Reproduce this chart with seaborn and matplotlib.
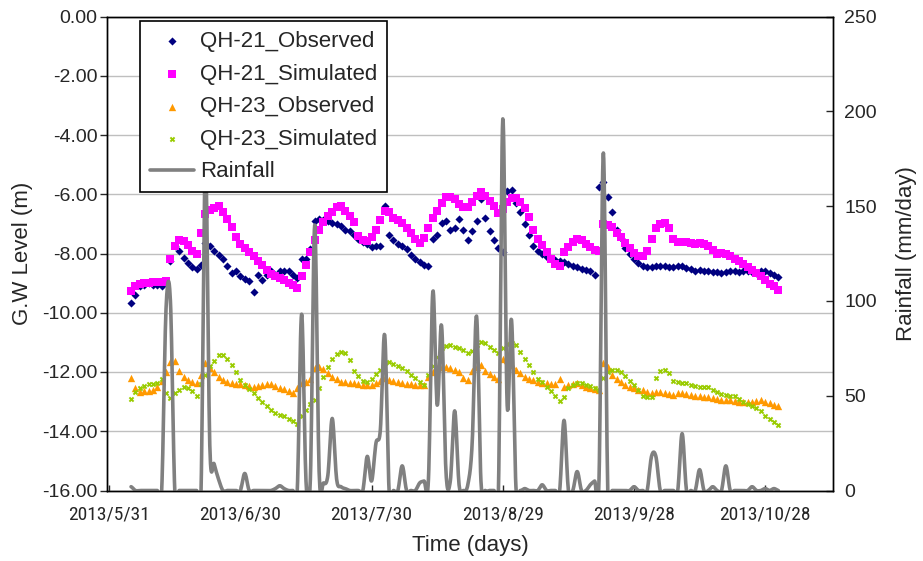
import numpy as np
import pandas as pd
import matplotlib
matplotlib.use("Agg")
import matplotlib.pyplot as plt
import matplotlib.dates as mdates
from matplotlib import font_manager
from matplotlib.ticker import FormatStrFormatter
import seaborn as sns

# ---------------- data (daily, 2013/6/5 .. 2013/10/31) ----------------
first_date = "2013-06-05"

qh21_observed = [
    -9.67, -9.39, -9.10, -9.05, -9.00, -9.05, -9.05, -9.10, -9.00, -8.26,
    -7.75, -7.92, -8.15, -8.32, -8.45, -8.54, -8.40, -7.65, -7.75, -7.92,
    -8.05, -8.20, -8.43, -8.66, -8.60, -8.77, -8.85, -8.94, -9.31, -8.71,
    -8.88, -8.71, -8.60, -8.71, -8.60, -8.60, -8.60, -8.71, -8.82, -8.20,
    -8.20, -7.86, -6.90, -6.85, -6.88, -6.90, -6.96, -7.00, -7.07, -7.20,
    -7.24, -7.36, -7.50, -7.62, -7.69, -7.77, -7.75, -7.75, -6.40, -7.36,
    -7.53, -7.69, -7.76, -7.86, -8.05, -8.20, -8.28, -8.38, -8.43, -7.50,
    -7.36, -6.96, -6.90, -7.19, -7.13, -6.85, -7.19, -7.53, -7.24, -6.90,
    -6.17, -6.79, -7.24, -7.53, -7.81, -7.95, -5.90, -5.85, -6.30, -6.60,
    -7.02, -7.36, -7.75, -7.92, -8.03, -8.12, -8.20, -8.22, -8.26, -8.30,
    -8.35, -8.42, -8.46, -8.53, -8.56, -8.60, -8.71, -5.74, -5.58, -6.10,
    -6.60, -7.20, -7.49, -7.81, -8.01, -8.18, -8.32, -8.41, -8.45, -8.45,
    -8.41, -8.43, -8.41, -8.45, -8.45, -8.42, -8.41, -8.48, -8.52, -8.58,
    -8.56, -8.58, -8.60, -8.63, -8.64, -8.66, -8.62, -8.60, -8.60, -8.62,
    -8.60, -8.60, -8.63, -8.66, -8.60, -8.60, -8.65, -8.71, -8.79,
]

qh21_simulated = [
    -9.25, -9.10, -9.02, -9.00, -8.98, -8.97, -8.96, -8.95, -8.94, -8.20,
    -7.75, -7.55, -7.58, -7.72, -7.92, -8.03, -7.30, -6.65, -6.52, -6.48,
    -6.40, -6.60, -6.85, -7.10, -7.45, -7.68, -7.80, -7.95, -8.09, -8.24,
    -8.40, -8.55, -8.68, -8.75, -8.83, -8.90, -9.00, -9.07, -9.16, -8.77,
    -8.40, -7.95, -7.55, -7.20, -6.95, -6.75, -6.60, -6.42, -6.40, -6.55,
    -6.73, -6.93, -7.40, -7.56, -7.58, -7.45, -7.20, -6.88, -6.56, -6.60,
    -6.80, -6.88, -6.98, -7.15, -7.30, -7.50, -7.64, -7.47, -7.15, -6.80,
    -6.55, -6.30, -6.10, -6.08, -6.17, -6.33, -6.43, -6.42, -6.25, -6.05,
    -5.94, -6.06, -6.23, -6.40, -6.62, -6.50, -6.25, -6.12, -6.13, -6.25,
    -6.47, -6.78, -7.20, -7.50, -7.70, -7.95, -8.20, -8.35, -8.43, -7.95,
    -7.78, -7.62, -7.50, -7.53, -7.68, -7.78, -7.88, -7.92, -7.02, -7.04,
    -7.10, -7.30, -7.45, -7.65, -7.82, -7.97, -8.07, -8.09, -7.90, -7.50,
    -7.15, -7.00, -6.96, -7.13, -7.50, -7.62, -7.60, -7.62, -7.66, -7.67,
    -7.64, -7.68, -7.74, -7.88, -8.00, -7.99, -8.00, -8.07, -8.17, -8.26,
    -8.35, -8.47, -8.57, -8.66, -8.77, -8.90, -9.02, -9.11, -9.22,
]

qh23_observed = [
    -12.21, -12.55, -12.67, -12.65, -12.63, -12.62, -12.50, -12.30, -12.00, -11.65,
    -11.62, -11.95, -12.16, -12.27, -12.33, -12.38, -12.10, -11.70, -11.88, -12.00,
    -12.16, -12.27, -12.33, -12.38, -12.40, -12.41, -12.44, -12.46, -12.50, -12.48,
    -12.44, -12.42, -12.41, -12.48, -12.55, -12.58, -12.65, -12.72, -12.55, -12.38,
    -12.33, -12.25, -11.85, -11.82, -11.90, -12.05, -12.16, -12.25, -12.33, -12.35,
    -12.37, -12.38, -12.41, -12.44, -12.44, -12.44, -12.38, -12.30, -12.21, -12.27,
    -12.32, -12.35, -12.38, -12.40, -12.42, -12.44, -12.44, -12.44, -12.16, -12.00,
    -11.88, -11.84, -11.82, -11.88, -11.93, -12.00, -12.21, -12.27, -11.95, -11.82,
    -11.75, -11.95, -12.08, -12.16, -12.22, -11.55, -11.58, -11.76, -11.93, -12.05,
    -12.16, -12.25, -12.27, -12.33, -12.36, -12.38, -12.40, -12.40, -12.22, -12.50,
    -12.45, -12.40, -12.38, -12.45, -12.50, -12.55, -12.58, -12.60, -11.71, -11.82,
    -12.10, -12.25, -12.35, -12.44, -12.50, -12.55, -12.60, -12.62, -12.67, -12.72,
    -12.68, -12.67, -12.72, -12.75, -12.78, -12.72, -12.72, -12.75, -12.78, -12.80,
    -12.82, -12.84, -12.85, -12.88, -12.90, -12.93, -12.94, -12.95, -12.97, -13.00,
    -13.00, -13.00, -13.00, -12.98, -12.96, -13.02, -13.06, -13.10, -13.15,
]

qh23_simulated = [
    -12.92, -12.67, -12.55, -12.48, -12.42, -12.39, -12.38, -12.25, -12.70, -12.89,
    -12.70, -12.61, -12.50, -12.55, -12.65, -12.80, -12.40, -12.10, -11.80, -11.63,
    -11.42, -11.42, -11.55, -11.75, -12.00, -12.28, -12.45, -12.58, -12.72, -12.87,
    -13.00, -13.14, -13.27, -13.37, -13.44, -13.50, -13.57, -13.66, -13.76, -13.50,
    -13.27, -13.08, -12.93, -12.55, -12.18, -11.82, -11.55, -11.38, -11.31, -11.37,
    -11.60, -11.95, -12.12, -12.30, -12.33, -12.25, -12.08, -11.93, -11.71, -11.65,
    -11.73, -11.80, -11.88, -11.98, -12.10, -12.20, -12.33, -12.43, -12.10, -11.80,
    -11.50, -11.20, -11.12, -11.08, -11.14, -11.20, -11.27, -11.35, -11.30, -11.10,
    -11.00, -11.03, -11.14, -11.25, -11.35, -11.20, -11.05, -11.03, -11.10, -11.33,
    -11.55, -11.75, -12.00, -12.25, -12.35, -12.50, -12.64, -12.80, -12.97, -12.84,
    -12.55, -12.44, -12.38, -12.38, -12.43, -12.48, -12.55, -12.60, -12.20, -12.00,
    -11.93, -11.92, -12.00, -12.15, -12.30, -12.45, -12.60, -12.82, -12.84, -12.84,
    -12.20, -11.97, -11.92, -12.05, -12.30, -12.35, -12.38, -12.38, -12.43, -12.46,
    -12.50, -12.50, -12.50, -12.60, -12.67, -12.74, -12.79, -12.80, -12.82, -12.92,
    -13.00, -13.07, -13.15, -13.22, -13.33, -13.48, -13.58, -13.69, -13.80,
]

rainfall = [
    2, 0, 0, 0, 0, 0, 0, 0, 96, 100,
    0, 0, 0, 0, 0, 0, 0, 175, 24, 14,
    6, 0, 0, 0, 0, 0, 9, 0, 0, 0,
    0, 0, 0, 1, 2.5, 1, 0, 0, 0, 93,
    5, 6, 140, 10, 4, 8, 38, 6, 2, 1,
    0, 0, 0, 0, 18, 5, 25, 32, 82, 0,
    0, 0, 13, 0, 0, 0, 4, 5, 6, 105,
    45, 87, 10, 5, 42, 3, 0, 3, 25, 92,
    5, 0, 0, 0, 0, 196, 45, 90, 2, 0,
    1, 0, 0, 0, 3, 0, 0, 0, 0, 37,
    0, 0, 10, 0, 0, 3, 5, 6, 178, 0,
    0, 0, 0, 0, 0, 2, 0, 0, 0, 18,
    18, 0, 0, 0, 0, 0, 30, 0, 0, 0,
    11, 0, 0, 2, 0, 0, 13, 0, 0, 0,
    0, 0, 2, 0, 0, 1, 0, 1, 0,
]

x_tick_labels = ["2013/5/31", "2013/6/30", "2013/7/30", "2013/8/29",
                 "2013/9/28", "2013/10/28"]
gw_ticks = [-16, -14, -12, -10, -8, -6, -4, -2, 0]
rain_ticks = [0, 50, 100, 150, 200, 250]
series_names = ["QH-21_Observed", "QH-21_Simulated", "QH-23_Observed", "QH-23_Simulated"]

# ---------------- styling ----------------
sns.set_style("white")
plt.rcParams["font.family"] = ["Liberation Sans", "DejaVu Sans"]
names = {f.name for f in font_manager.fontManager.ttflist}
narrow = None
for cand in ["Liberation Sans Narrow", "DejaVu Sans Condensed", "Roboto Condensed",
             "Open Sans Condensed", "Noto Sans Condensed"]:
    if cand in names:
        narrow = cand
        break
xtick_family = [narrow, "DejaVu Sans"] if narrow else ["Liberation Sans", "DejaVu Sans"]
xtick_size = 14 if narrow else 12

dates = pd.date_range(first_date, periods=len(rainfall), freq="D")
df = pd.DataFrame({
    "date": dates,
    series_names[0]: qh21_observed,
    series_names[1]: qh21_simulated,
    series_names[2]: qh23_observed,
    series_names[3]: qh23_simulated,
    "Rainfall": rainfall,
})

fig = plt.figure(figsize=(9.23, 5.61), dpi=100)
ax1 = fig.add_axes([107 / 923, 1 - 490.5 / 561, 726 / 923, 474 / 561])
ax1.set_facecolor("white")

styles = [
    dict(marker="D", color="#000080", s=17),
    dict(marker="s", color="#FF00FF", s=30),
    dict(marker="^", color="#FF9900", s=28),
    dict(marker="X", color="#99CC00", s=16),
]
for name, st in zip(series_names, styles):
    sns.scatterplot(data=df, x="date", y=name, ax=ax1, marker=st["marker"],
                    color=st["color"], s=st["s"], linewidth=0, label=name, zorder=3)

ax2 = ax1.twinx()

# Excel-style smoothed line through the daily rainfall values
xnum = mdates.date2num(df["date"])
yv = np.asarray(df["Rainfall"], dtype=float)
P = np.r_[yv[0], yv, yv[-1]]
xs, ys = [], []
t = np.linspace(0, 1, 12, endpoint=False)
for i in range(len(yv) - 1):
    p0, p1, p2, p3 = P[i], P[i + 1], P[i + 2], P[i + 3]
    yy = 0.5 * (2 * p1 + (-p0 + p2) * t + (2 * p0 - 5 * p1 + 4 * p2 - p3) * t ** 2
                + (-p0 + 3 * p1 - 3 * p2 + p3) * t ** 3)
    xs.append(xnum[i] + (xnum[i + 1] - xnum[i]) * t)
    ys.append(yy)
xs.append([xnum[-1]])
ys.append([yv[-1]])
smooth = pd.DataFrame({"x": np.concatenate(xs), "y": np.concatenate(ys)})
sns.lineplot(data=smooth, x="x", y="y", ax=ax2, color="#808080", linewidth=2.6,
             sort=False, estimator=None, label="Rainfall")

# axes limits / ticks
tick_dates = pd.to_datetime(x_tick_labels, format="%Y/%m/%d")
x0 = mdates.date2num(tick_dates[0])
ax1.set_xlim(x0 - 0.5, x0 + 165.5)
ax1.set_xticks(mdates.date2num(tick_dates))
ax1.set_xticklabels(x_tick_labels, fontsize=xtick_size, family=xtick_family)
ax1.set_ylim(-16, 0)
ax1.set_yticks(gw_ticks)
ax1.yaxis.set_major_formatter(FormatStrFormatter("%.2f"))
ax2.set_ylim(0, 250)
ax2.set_yticks(rain_ticks)

ax1.grid(axis="y", color="#BFBFBF", linewidth=1.0)
ax1.grid(axis="x", visible=False)
ax1.set_axisbelow(True)

ax1.tick_params(axis="y", direction="out", length=5, width=1, labelsize=14, pad=2, left=True)
ax1.tick_params(axis="x", direction="in", length=4, width=1, pad=11, bottom=True)
ax2.tick_params(axis="y", direction="in", length=5, width=1, labelsize=14, pad=8, right=True)

for ax in (ax1, ax2):
    for sp in ax.spines.values():
        sp.set_visible(True)
        sp.set_color("black")
        sp.set_linewidth(1.0)

ax1.set_xlabel("Time (days)", fontsize=16, labelpad=8)
ax1.set_ylabel("G.W Level (m)", fontsize=16, labelpad=6)
ax2.set_ylabel("Rainfall (mm/day)", fontsize=16, labelpad=14)

# legend combining both axes
h1, l1 = ax1.get_legend_handles_labels()
h2, l2 = ax2.get_legend_handles_labels()
if ax1.get_legend():
    ax1.get_legend().remove()
if ax2.get_legend():
    ax2.get_legend().remove()
leg = ax2.legend(h1 + h2, l1 + l2, loc="upper left", bbox_to_anchor=(0.045, 0.99),
                 borderaxespad=0.0,
                 fontsize=16, frameon=True, fancybox=False, framealpha=1,
                 edgecolor="black", labelspacing=0.52, handlelength=2.0,
                 handletextpad=0.25, borderpad=0.45, markerscale=1.0)
leg.get_frame().set_linewidth(1.2)

fig.savefig("out.png", dpi=100)
